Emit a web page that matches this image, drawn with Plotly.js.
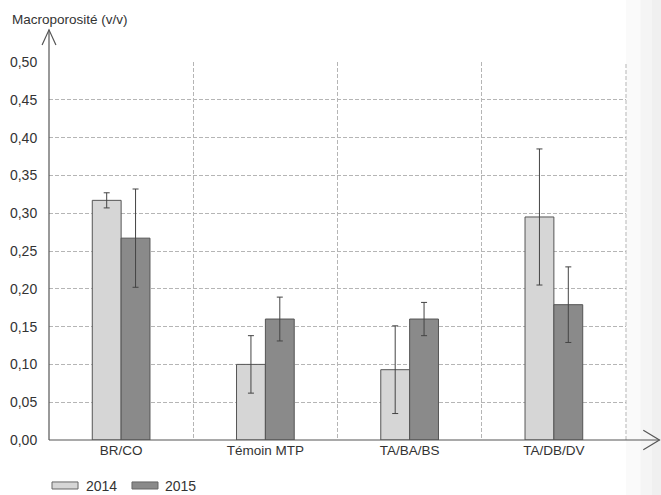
<!DOCTYPE html>
<html>
<head>
<meta charset="utf-8">
<script src="https://cdn.plot.ly/plotly-3.0.1.min.js"></script>
<style>html,body{margin:0;padding:0;background:#fff;}#chart{width:661px;height:495px;}</style>
</head>
<body>
<div id="chart"></div>
<script>
const categories = ["BR/CO", "Témoin MTP", "TA/BA/BS", "TA/DB/DV"];
const years = ["2014", "2015"];
const values2014 = [0.317, 0.100, 0.093, 0.295];
const err2014 = [0.010, 0.038, 0.058, 0.090];
const values2015 = [0.267, 0.160, 0.160, 0.179];
const err2015 = [0.065, 0.029, 0.022, 0.050];
const yTicks = [0, 0.05, 0.10, 0.15, 0.20, 0.25, 0.30, 0.35, 0.40, 0.45, 0.50];
const colors = ["#d6d6d6", "#8a8a8a"];

const font = "Liberation Sans, Arial, sans-serif";
const errStyle = {type: "data", visible: true, color: "#444", thickness: 1, width: 3};

const traces = [
  {type: "bar", name: years[0], x: categories, y: values2014,
   error_y: Object.assign({array: err2014}, errStyle),
   marker: {color: colors[0], line: {color: "#555", width: 1}}},
  {type: "bar", name: years[1], x: categories, y: values2015,
   error_y: Object.assign({array: err2015}, errStyle),
   marker: {color: colors[1], line: {color: "#555", width: 1}}}
];

const gridDash = "4px,2px";
const gridColor = "#b5b5b5";

// legend (drawn manually to match wide swatches)
const legShapes = [];
const legAnn = [];
const legX = [[0.0052, 0.0503, 0.0607], [0.1438, 0.1889, 0.1976]];
years.forEach((yr, i) => {
  legShapes.push({type: "rect", xref: "paper", yref: "paper",
    x0: legX[i][0], x1: legX[i][1], y0: -0.1296, y1: -0.111,
    fillcolor: colors[i], line: {color: "#666", width: 1}});
  legAnn.push({text: yr, xref: "paper", yref: "paper", x: legX[i][2], y: -0.1205,
    xanchor: "left", yanchor: "middle", showarrow: false,
    font: {family: font, size: 14, color: "#333"}});
});

// subtle scan shading at right edge
const shade = [1.0, 1.025, 1.045].map(x0 => ({type: "rect", xref: "paper", yref: "paper",
  x0: x0, x1: 1.08, y0: -0.2, y1: 1.2, fillcolor: "rgba(0,0,0,0.018)",
  line: {width: 0}, layer: "below"}));

const layout = {
  width: 661, height: 495,
  margin: {l: 49, r: 35, t: 62, b: 55},
  paper_bgcolor: "#ffffff", plot_bgcolor: "rgba(0,0,0,0)",
  separators: ",.",
  font: {family: font, size: 13, color: "#333"},
  barmode: "group", bargap: 0.6, bargroupgap: 0,
  showlegend: false,
  xaxis: {type: "category", range: [-0.5, 3.5], tickson: "boundaries",
          showgrid: true, gridcolor: gridColor, griddash: gridDash, gridwidth: 1,
          ticks: "outside", ticklen: 8, tickcolor: "rgba(0,0,0,0)",
          showline: false, zeroline: false,
          tickfont: {family: font, size: 13.5, color: "#333"}},
  yaxis: {range: [0, 0.5], tickvals: yTicks, tickformat: ".2f",
          showgrid: true, gridcolor: gridColor, griddash: gridDash, gridwidth: 1,
          ticks: "outside", ticklen: 8, tickcolor: "rgba(0,0,0,0)",
          showline: false, zeroline: false,
          tickfont: {family: font, size: 14, color: "#333"}},
  shapes: shade.concat([
    // right boundary grid line
    {type: "line", xref: "paper", yref: "paper", x0: 1, x1: 1, y0: 0, y1: 1,
     line: {color: gridColor, width: 1, dash: gridDash}, layer: "below"},
    // y axis with arrow
    {type: "line", xref: "paper", yref: "paper", x0: 0, x1: 0, y0: 0, y1: 1.085,
     line: {color: "#555", width: 1.2}},
    {type: "path", xref: "paper", yref: "paper",
     path: "M -0.012,1.045 L 0,1.085 L 0.012,1.045", line: {color: "#555", width: 1.2}},
    // x axis with arrow
    {type: "line", xref: "paper", yref: "paper", x0: 0, x1: 1.058, y0: 0, y1: 0,
     line: {color: "#555", width: 1.2}},
    {type: "path", xref: "paper", yref: "paper",
     path: "M 1.03,0.026 L 1.058,0 L 1.03,-0.026", line: {color: "#555", width: 1.2}}
  ]).concat(legShapes),
  annotations: [
    {text: "Macroporosité (v/v)", xref: "paper", yref: "paper", x: -0.068, y: 1.112,
     xanchor: "left", yanchor: "middle", showarrow: false,
     font: {family: font, size: 13.5, color: "#333"}}
  ].concat(legAnn)
};

Plotly.newPlot("chart", traces, layout, {displayModeBar: false, staticPlot: true});
</script>
</body>
</html>
